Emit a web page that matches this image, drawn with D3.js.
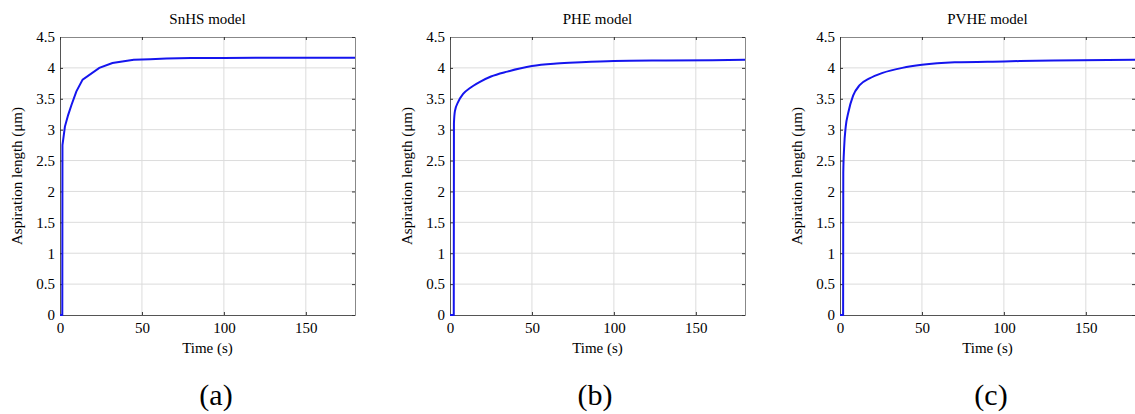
<!DOCTYPE html>
<html>
<head>
<meta charset="utf-8">
<script src="https://cdn.jsdelivr.net/npm/d3@7"></script>
<style>
  body { margin: 0; background: #fff; }
  text { font-family: "Liberation Serif", "Times New Roman", serif; fill: #000; }
</style>
</head>
<body>
<script>
const titles = ["SnHS model", "PHE model", "PVHE model"];
const captions = ["(a)", "(b)", "(c)"];
const xTicks = [0, 50, 100, 150];
const yTicks = [0, 0.5, 1, 1.5, 2, 2.5, 3, 3.5, 4, 4.5];

const timeA = [0, 1.4, 1.5, 3, 5, 7, 10, 13.8, 24, 32, 45, 55, 65, 80, 100, 140, 180];
const lenA  = [0, 0, 2.75, 3.05, 3.24, 3.4, 3.62, 3.81, 4.0, 4.08, 4.13, 4.14, 4.15, 4.16, 4.16, 4.165, 4.165];

const timeB = [0, 2.3, 2.4, 3, 5, 8, 12, 18, 25, 35, 50, 65, 80, 100, 130, 160, 180];
const lenB  = [0, 0, 3.1, 3.3, 3.45, 3.58, 3.67, 3.77, 3.86, 3.94, 4.03, 4.07, 4.09, 4.11, 4.12, 4.125, 4.13];

const timeC = [0, 1.9, 2.0, 2.5, 3.5, 5, 8, 12, 18, 26, 38, 50, 70, 100, 130, 180];
const lenC  = [0, 0, 2.3, 2.7, 3.05, 3.27, 3.55, 3.72, 3.83, 3.92, 4.0, 4.05, 4.09, 4.105, 4.12, 4.13];

const series = [[timeA, lenA, d3.curveLinear], [timeB, lenB, d3.curveMonotoneX], [timeC, lenC, d3.curveMonotoneX]];

const main = () => {
  const W = 1135, H = 414;
  const svg = d3.select("body").append("svg")
    .attr("width", W)
    .attr("height", H);

  const lefts = [60, 450, 840];
  const capX = [216, 595, 991];
  const pw = 295, top = 37, bottom = 315;

  series.forEach(([t, v, curve], i) => {
    const x = d3.scaleLinear().domain([0, 180]).range([lefts[i], lefts[i] + pw]);
    const y = d3.scaleLinear().domain([0, 4.5]).range([bottom, top]);
    const g = svg.append("g");

    // grid
    g.selectAll(".gx").data(xTicks.slice(1)).enter().append("line")
      .attr("x1", d => x(d)).attr("x2", d => x(d))
      .attr("y1", top).attr("y2", bottom)
      .attr("stroke", "#dcdcdc");
    g.selectAll(".gy").data(yTicks.slice(1, -1)).enter().append("line")
      .attr("x1", x(0)).attr("x2", x(180))
      .attr("y1", d => y(d)).attr("y2", d => y(d))
      .attr("stroke", "#dcdcdc");

    // axes, ticks inward
    const ax = (sel) => {
      sel.select(".domain").attr("stroke", "#555");
      sel.selectAll(".tick line").attr("stroke", "#333");
      sel.selectAll("text").style("font-family", "Liberation Serif").attr("font-size", 15).attr("fill", "#000");
    };
    g.append("g").attr("transform", `translate(0,${bottom})`)
      .call(d3.axisBottom(x).tickValues(xTicks).tickSizeInner(-3).tickSizeOuter(0).tickPadding(7))
      .call(ax);
    g.append("g").attr("transform", `translate(${lefts[i]},0)`)
      .call(d3.axisLeft(y).tickValues(yTicks).tickFormat(d3.format("~g")).tickSizeInner(-3).tickSizeOuter(0).tickPadding(5))
      .call(ax);
    g.append("g").attr("transform", `translate(0,${top})`)
      .call(d3.axisTop(x).tickValues(xTicks).tickFormat("").tickSizeInner(-3).tickSizeOuter(0))
      .call(ax).select(".domain").attr("stroke", "#888");
    g.append("g").attr("transform", `translate(${lefts[i] + pw},0)`)
      .call(d3.axisRight(y).tickValues(yTicks).tickFormat("").tickSizeInner(-3).tickSizeOuter(0))
      .call(ax).select(".domain").attr("stroke", "#888");

    // curve
    const pts = t.map((d, k) => [d, v[k]]);
    g.append("path")
      .datum(pts)
      .attr("fill", "none")
      .attr("stroke", "#1515ee")
      .attr("stroke-width", 2)
      .attr("d", d3.line().x(d => x(d[0])).y(d => y(d[1])).curve(curve));

    const cx = lefts[i] + pw / 2;
    g.append("text").attr("x", cx).attr("y", 24)
      .attr("text-anchor", "middle").attr("font-size", 15).text(titles[i]);
    g.append("text").attr("x", cx).attr("y", 353)
      .attr("text-anchor", "middle").attr("font-size", 15).text("Time (s)");
    g.append("text")
      .attr("transform", `translate(${lefts[i] - 38},${(top + bottom) / 2}) rotate(-90)`)
      .attr("text-anchor", "middle").attr("font-size", 15).text("Aspiration length (μm)");
    g.append("text").attr("x", capX[i]).attr("y", 405)
      .attr("text-anchor", "middle").attr("font-size", 30).text(captions[i]);
  });
};

window.onload = main;
</script>
</body>
</html>
